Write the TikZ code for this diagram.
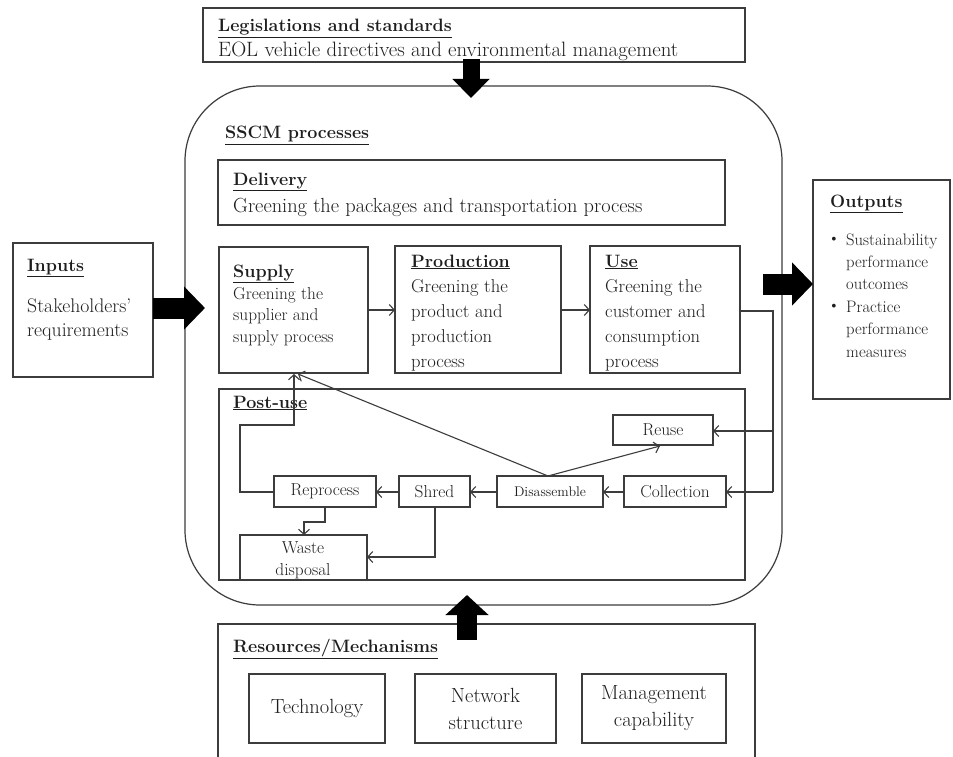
\documentclass[tikz,border=0pt]{standalone}
\usepackage{fontspec}
\usetikzlibrary{arrows.meta}
\definecolor{ln}{HTML}{3C3C3C}
\definecolor{tx}{HTML}{1E1E1E}
\newcommand\hdf{\fontsize{17.9}{20}\selectfont\bfseries}
\newcommand\bigf{\fontsize{20.8}{25}\selectfont}
\newcommand\delf{\fontsize{20.4}{25}\selectfont}
\newcommand\inpf{\fontsize{19.7}{25}\selectfont}
\newcommand\bodf{\fontsize{18.6}{25}\selectfont}
\newcommand\supf{\fontsize{17.3}{21}\selectfont}
\newcommand\pstf{\fontsize{17.3}{20}\selectfont}
\newcommand\outf{\fontsize{16.6}{22}\selectfont}
\newcommand\resf{\fontsize{20.5}{27}\selectfont}
\begin{document}
\begin{tikzpicture}[x=1pt,y=-1pt,
  box/.style={draw=ln, line width=1.2pt, inner sep=0pt, outer sep=0pt, anchor=north west, fill=white},
  lbl/.style={inner sep=0pt, anchor=base west, text=tx},
  ctr/.style={inner sep=0pt, align=center, text=tx},
  conn/.style={draw=ln, line width=1.1pt, -{Straight Barb[length=5pt,width=11pt]}},
  plain/.style={draw=ln, line width=1.1pt},
  blk/.style={draw=black, line width=21pt, -{Triangle[length=21pt,width=42pt]}}]
\useasboundingbox[fill=white] (0,0) rectangle (953,757);

% outer boxes
\node[box, minimum width=542, minimum height=54] (leg) at (203,8) {};
\node[box, fill=none, rounded corners=75, minimum width=597, minimum height=519] (sscm) at (185,86) {};
\node[box, minimum width=140, minimum height=134] (inputs) at (13,243) {};
\node[box, minimum width=137, minimum height=219] (outputs) at (813,180) {};
\draw[draw=ln, line width=1.2pt] (218,760) -- (218,624) coordinate (resTL) -- (755,624) coordinate (resTR) -- (755,760);

% SSCM inner boxes
\node[box, minimum width=507, minimum height=65] (delivery) at (218,160) {};
\node[box, minimum width=149, minimum height=126] (supply) at (219,247) {};
\node[box, minimum width=166, minimum height=127] (production) at (395,246) {};
\node[box, minimum width=150, minimum height=127] (use) at (590,246) {};
\node[box, minimum width=526, minimum height=191] (postuse) at (219,389) {};
\node[box, minimum width=100, minimum height=30] (reuse) at (613,415) {};
\node[box, minimum width=102, minimum height=31] (collection) at (624,476) {};
\node[box, minimum width=106, minimum height=31] (disassemble) at (497,476) {};
\node[box, minimum width=71, minimum height=31] (shred) at (399,476) {};
\node[box, minimum width=102, minimum height=31] (reprocess) at (274,476) {};
\node[box, minimum width=127, minimum height=45] (waste) at (240,535) {};

% resources boxes
\node[box, minimum width=136, minimum height=69] (tech) at (249,674) {};
\node[box, minimum width=141, minimum height=69] (network) at (415,674) {};
\node[box, minimum width=144, minimum height=69] (mgmt) at (582,674) {};

% texts
\node[lbl, font=\hdf] (legH) at (218,32) {\underline{Legislations and standards}};
\node[lbl, font=\bigf] (legT) at (218,57) {EOL vehicle directives and environmental management};
\node[lbl, font=\hdf] (sscmH) at (225,139) {\underline{SSCM processes}};
\node[lbl, font=\hdf] (delH) at (233,185) {\underline{Delivery}};
\node[lbl, font=\delf] (delT) at (233,212) {Greening the packages and transportation process};

\node[lbl, font=\hdf] (inH) at (27,271) {\underline{Inputs}};
\node[lbl, font=\inpf] (in1) at (27,312) {Stakeholders'};
\node[lbl, font=\inpf] (in2) at (27,336) {requirements};

\node[lbl, font=\hdf] (supH) at (233,277) {\underline{Supply}};
\foreach \t [count=\i] in {Greening the, supplier and, supply process}
  \node[lbl, font=\supf] (sup\i) at (233,{299+21.5*(\i-1)}) {\t};

\node[lbl, font=\hdf] (proH) at (411,267) {\underline{Production}};
\foreach \t [count=\i] in {Greening the, product and, production, process}
  \node[lbl, font=\bodf] (pro\i) at (411,{292+25.3*(\i-1)}) {\t};

\node[lbl, font=\hdf] (useH) at (605,267) {\underline{Use}};
\foreach \t [count=\i] in {Greening the, customer and, consumption, process}
  \node[lbl, font=\bodf] (use\i) at (605,{292+25.3*(\i-1)}) {\t};

\node[lbl, font=\hdf] (outH) at (830,207) {\underline{Outputs}};
\foreach \t [count=\i] in {Sustainability, performance, outcomes, Practice, performance, measures}
  \node[lbl, font=\outf] (out\i) at (846,{245+22.4*(\i-1)}) {\t};
\node[lbl, font=\fontsize{14}{14}\selectfont, anchor=center] (bul1) at (834,240) {\textbullet};
\node[lbl, font=\fontsize{14}{14}\selectfont, anchor=center] (bul2) at (834,307) {\textbullet};

\node[lbl, font=\hdf] (postH) at (233,408) {\underline{Post-use}};
\node[ctr, font=\pstf] (reuseT) at (reuse.center) {Reuse};
\node[ctr, font=\pstf] (collT) at (collection.center) {Collection};
\node[ctr, font=\fontsize{14}{15}\selectfont] (disT) at (disassemble.center) {Disassemble};
\node[ctr, font=\pstf] (shredT) at (shred.center) {Shred};
\node[ctr, font=\pstf] (reprT) at (reprocess.center) {Reprocess};
\node[lbl, font=\pstf, anchor=base] (waste1) at (303,553) {Waste};
\node[lbl, font=\pstf, anchor=base] (waste2) at (303,575) {disposal};

\node[lbl, font=\hdf] (resH) at (233,652) {\underline{Resources/Mechanisms}};
\node[ctr, font=\resf] (techT) at (tech.center) {Technology};
\node[ctr, font=\resf] (netT) at (network.center) {Network\\structure};
\node[ctr, font=\resf] (mgmtT) at (mgmt.center) {Management\\capability};

% connectors in process row
\draw[conn] (supply.east |- 0,310) -- (production.west |- 0,310);
\draw[conn] (production.east |- 0,310) -- (use.west |- 0,310);
\coordinate (uR) at (773,311);
\coordinate (uB) at (773,431);
\draw[plain] (use.east |- uR) -- (uR) -- (773,492);
\draw[conn] (773,492) -- (collection.east |- 0,492);
\draw[conn] (uB) -- (reuse.east |- uB);
\draw[conn] (collection.west |- 0,492) -- (disassemble.east |- 0,492);
\draw[conn] (disassemble.west |- 0,492) -- (shred.east |- 0,492);
\draw[conn] (shred.west |- 0,492) -- (reprocess.east |- 0,492);
\coordinate (disTop) at (548,476);
\draw[conn] (disTop) -- (660,446);
\draw[conn] (disTop) -- (298,374);
\draw[conn] (reprocess.west |- 0,492) -- (240,492) -- (240,425) -- (294,425) -- (294,374);
\draw[conn] (325,507) -- (325,522) -- (304,522) -- (304,535);
\draw[conn] (435,507) -- (435,557) -- (waste.east |- 0,557);

% block arrows
\draw[blk] (153,308) -- (205,308);
\draw[blk] (763,284) -- (813,284);
\draw[blk, line width=17pt, -{Triangle[length=19pt,width=36pt]}] (471,59) -- (471,98);
\draw[blk, line width=20pt, -{Triangle[length=20pt,width=42pt]}] (467,640) -- (467,595);
\end{tikzpicture}
\end{document}
